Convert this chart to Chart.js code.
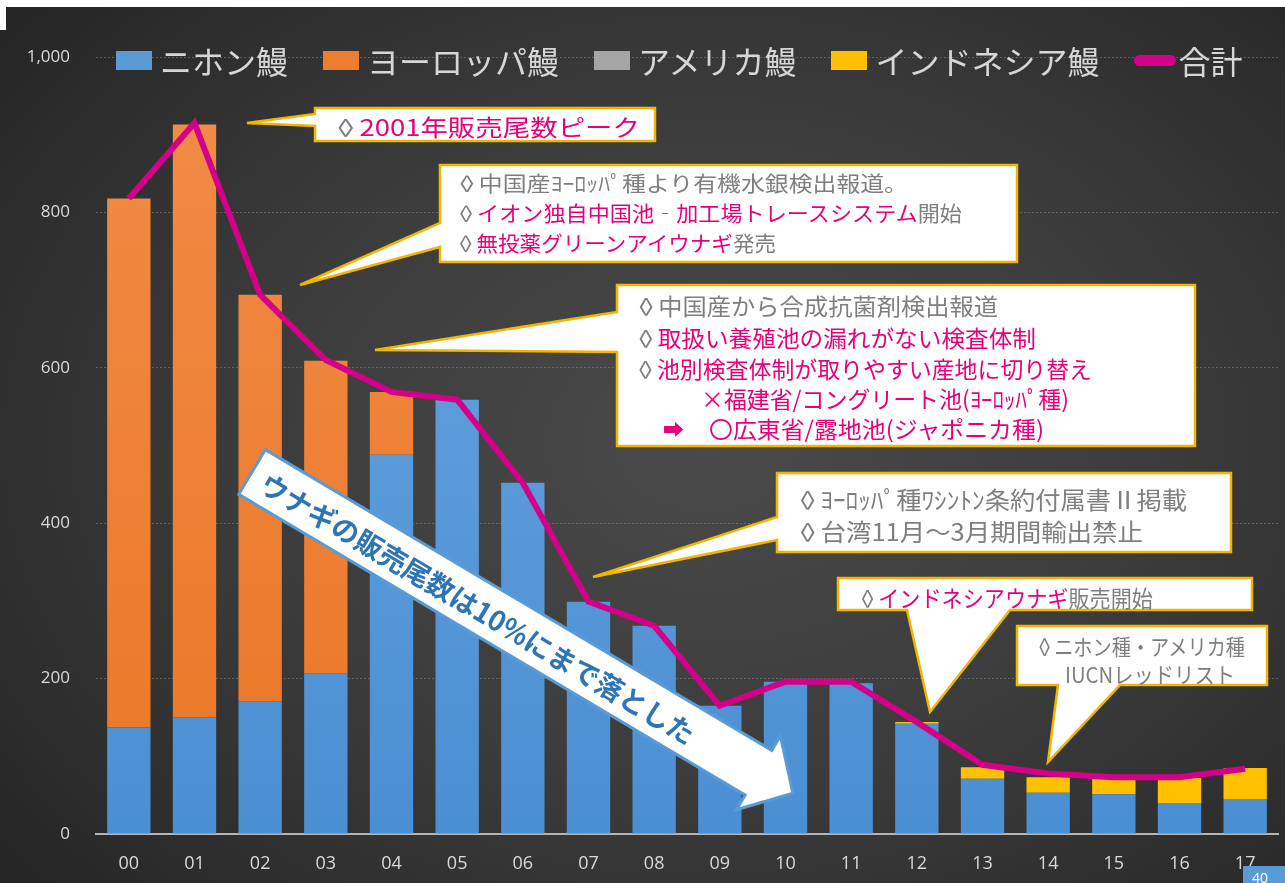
<!DOCTYPE html>
<html lang="ja">
<head>
<meta charset="utf-8">
<title>ウナギの販売尾数</title>
<script src="https://cdn.jsdelivr.net/npm/chart.js@4.4.1/dist/chart.umd.min.js"></script>
<style>
html, body { margin: 0; padding: 0; }
body { width: 1285px; height: 883px; overflow: hidden; position: relative; background: #ffffff;
       font-family: "Noto Sans CJK JP", "DejaVu Sans", sans-serif; }
#bg { position: absolute; left: 0; top: 7px; right: 0; bottom: 0;
      background: radial-gradient(ellipse 70% 75% at 55% 50%, #4a4a4a 0%, #3c3c3c 50%, #262626 100%); }
#corner { position: absolute; left: 0; top: 0; width: 6px; height: 30px; background: #ffffff; }
#chart { position: absolute; left: 0; top: 0; }
#legend { position: absolute; left: 116px; top: 40px; height: 40px; display: flex; align-items: center;
          gap: 35px; color: #d6d6d6; font-size: 32px; line-height: 40px; white-space: nowrap; }
#legend .item { display: flex; align-items: center; }
#legend .sw { width: 36px; height: 19px; margin-right: 8px; }
#legend .sw.line { width: 42px; height: 11px; border-radius: 6px; margin-right: 2px; }
#notes { position: absolute; left: 0; top: 0; }
#page { position: absolute; left: 1243px; top: 866px; width: 42px; height: 17px; background: #5b9bd5;
        color: #fff; font: 14px "Open Sans"; padding-left: 9px; box-sizing: border-box; line-height: 24px; overflow: hidden; }
</style>
</head>
<body>
<div id="bg"></div>
<div id="corner"></div>
<canvas id="chart" width="1285" height="883"></canvas>
<div id="legend"></div>

<svg id="notes" width="1285" height="883" font-family="'Noto Sans CJK JP', 'DejaVu Sans', sans-serif">
  <g fill="#ffffff" stroke="#f2b600" stroke-width="2.5">
    <path d="M315,108 H655 V141 H315 V126 L247,123 L315,114 Z"/>
    <path d="M440,165 H1017 V262 H440 V247 L300,285 L440,223 Z"/>
    <path d="M617,285 H1195 V446 H617 V352 L375,350 L617,312 Z"/>
    <path d="M777,473 H1231 V552 H777 V540 L593,577 L777,517 Z"/>
    <path d="M838,578 H1252 V610 H1010 L930,712 L907,610 H838 Z"/>
    <path d="M1017,626 H1267 V685 H1120 L1048,762 L1058,685 H1017 Z"/>
  </g>
  <g dominant-baseline="central" fill="#7f7f7f">
    <text x="332" y="126" font-size="23" textLength="308" lengthAdjust="spacingAndGlyphs"><tspan>◊</tspan><tspan fill="#e6007e">2001年販売尾数ピーク</tspan></text>

    <text x="455" y="182" font-size="21" textLength="453" lengthAdjust="spacingAndGlyphs">◊中国産ﾖｰﾛｯﾊﾟ種より有機水銀検出報道。</text>
    <text x="455" y="212" font-size="21" textLength="507" lengthAdjust="spacingAndGlyphs"><tspan>◊</tspan><tspan fill="#e6007e">イオン独自中国池‐加工場トレースシステム</tspan><tspan>開始</tspan></text>
    <text x="455" y="242" font-size="21" textLength="321" lengthAdjust="spacingAndGlyphs"><tspan>◊</tspan><tspan fill="#e6007e">無投薬グリーンアイウナギ</tspan><tspan>発売</tspan></text>

    <text x="634" y="305" font-size="23" textLength="364" lengthAdjust="spacingAndGlyphs">◊中国産から合成抗菌剤検出報道</text>
    <text x="634" y="337" font-size="23" textLength="402" lengthAdjust="spacingAndGlyphs"><tspan>◊</tspan><tspan fill="#e6007e">取扱い養殖池の漏れがない検査体制</tspan></text>
    <text x="634" y="368" font-size="23" textLength="458" lengthAdjust="spacingAndGlyphs"><tspan>◊</tspan><tspan fill="#e6007e">池別検査体制が取りやすい産地に切り替え</tspan></text>
    <text x="701" y="398" font-size="23" fill="#e6007e" textLength="368" lengthAdjust="spacingAndGlyphs">×福建省/コングリート池(ﾖｰﾛｯﾊﾟ種)</text>
    <text x="663" y="428" font-size="21" fill="#e6007e">➡</text>
    <text x="709" y="428" font-size="23" fill="#e6007e" textLength="335" lengthAdjust="spacingAndGlyphs">〇広東省/露地池(ジャポニカ種)</text>

    <text x="795" y="498" font-size="24" textLength="392" lengthAdjust="spacingAndGlyphs">◊ﾖｰﾛｯﾊﾟ種ﾜｼﾝﾄﾝ条約付属書Ⅱ掲載</text>
    <text x="795" y="530" font-size="24" textLength="348" lengthAdjust="spacingAndGlyphs">◊台湾11月～3月期間輸出禁止</text>

    <text x="857" y="597" font-size="23" textLength="296" lengthAdjust="spacingAndGlyphs"><tspan>◊</tspan><tspan fill="#e6007e">インドネシアウナギ</tspan><tspan>販売開始</tspan></text>

    <text x="1035" y="645" font-size="22" textLength="210" lengthAdjust="spacingAndGlyphs">◊ニホン種・アメリカ種</text>
    <text x="1065" y="673" font-size="22" textLength="170" lengthAdjust="spacingAndGlyphs">IUCNレッドリスト</text>
  </g>
  <g transform="translate(252,472) rotate(30.7)">
    <polygon points="0,-26 589,-26 589,-43 629,0 589,43 589,26 0,26" fill="#ffffff" stroke="#5b9bd5" stroke-width="3"/>
    <text x="14" y="1" dominant-baseline="central" font-size="28" font-weight="bold" fill="#2e75b6"
          textLength="500" lengthAdjust="spacingAndGlyphs">ウナギの販売尾数は10%にまで落とした</text>
  </g>
</svg>
<div id="page">40</div>

<script>
// データ (販売尾数)
const years = ["00","01","02","03","04","05","06","07","08","09","10","11","12","13","14","15","16","17"];
const japan     = [137, 150, 171, 207, 488, 559, 452, 299, 268, 165, 196, 194, 142, 71, 53, 51, 40, 45];
const europe    = [681, 763, 523, 402,  81,   0,   0,   0,   0,   0,   0,   0,   0,  0,  0,  0,  0,  0];
const america   = [  0,   0,   0,   0,   0,   0,   0,   0,   0,   0,   0,   0,   0,  0,  0,  0,  0,  0];
const indonesia = [  0,   0,   0,   0,   0,   0,   0,   0,   0,   0,   0,   0,   2, 15, 20, 21, 32, 40];
const total     = [818, 915, 694, 610, 569, 559, 452, 299, 268, 165, 196, 196, 144, 89, 78, 73, 73, 84];

// 縦グラデーション
function grad(top, bottom) {
    return function(c) {
        const area = c.chart.chartArea;
        if (!area) return bottom;
        const g = c.chart.ctx.createLinearGradient(0, area.top, 0, area.bottom);
        g.addColorStop(0, top);
        g.addColorStop(1, bottom);
        return g;
    };
}

const barStyle = { stack: "eels", barPercentage: 0.66, categoryPercentage: 1.0, order: 1, borderWidth: 0 };

const chart = new Chart(document.getElementById("chart").getContext("2d"), {
    type: "bar",
    data: {
        labels: years,
        datasets: [
            { label: "ニホン鰻", data: japan, backgroundColor: grad("#6aa6de", "#4b8fd3"), legendColor: "#5b9bd5", ...barStyle },
            { label: "ヨーロッパ鰻", data: europe, backgroundColor: grad("#f18c48", "#eb7726"), legendColor: "#ed7d31", ...barStyle },
            { label: "アメリカ鰻", data: america, backgroundColor: "#a5a5a5", legendColor: "#a5a5a5", ...barStyle },
            { label: "インドネシア鰻", data: indonesia, backgroundColor: "#ffc000", legendColor: "#ffc000", ...barStyle },
            { type: "line", label: "合計", data: total, stack: "total", order: 0, legendColor: "#d5008a",
              borderColor: "#d5008a", borderWidth: 6, pointRadius: 0, fill: false, tension: 0 }
        ]
    },
    options: {
        responsive: false,
        animation: false,
        layout: { padding: { top: 57, right: 7, left: 0, bottom: 0 } },
        plugins: { legend: { display: false }, tooltip: { enabled: false } },
        scales: {
            x: {
                stacked: true,
                grid: { display: false, drawTicks: false },
                border: { color: "#b4b4b4", width: 2 },
                ticks: { color: "#d9d9d9", font: { family: "Open Sans", size: 18 }, padding: 19 },
                afterFit: s => { s.height = 49; }
            },
            y: {
                stacked: true,
                min: 0, max: 1000,
                ticks: { stepSize: 200, color: "#d9d9d9", font: { family: "Open Sans", size: 17 }, padding: 26 },
                grid: { color: "rgba(200,200,200,0.3)", drawTicks: false },
                border: { display: false, dash: [2, 2] },
                afterFit: s => { s.width = 96; }
            }
        }
    }
});

// 凡例 (HTML)
const legend = document.getElementById("legend");
chart.data.datasets.forEach(ds => {
    const item = document.createElement("div");
    item.className = "item";
    const sw = document.createElement("span");
    sw.className = ds.type === "line" ? "sw line" : "sw";
    sw.style.background = ds.legendColor;
    const txt = document.createElement("span");
    txt.textContent = ds.label;
    item.appendChild(sw);
    item.appendChild(txt);
    legend.appendChild(item);
});
</script>
</body>
</html>
